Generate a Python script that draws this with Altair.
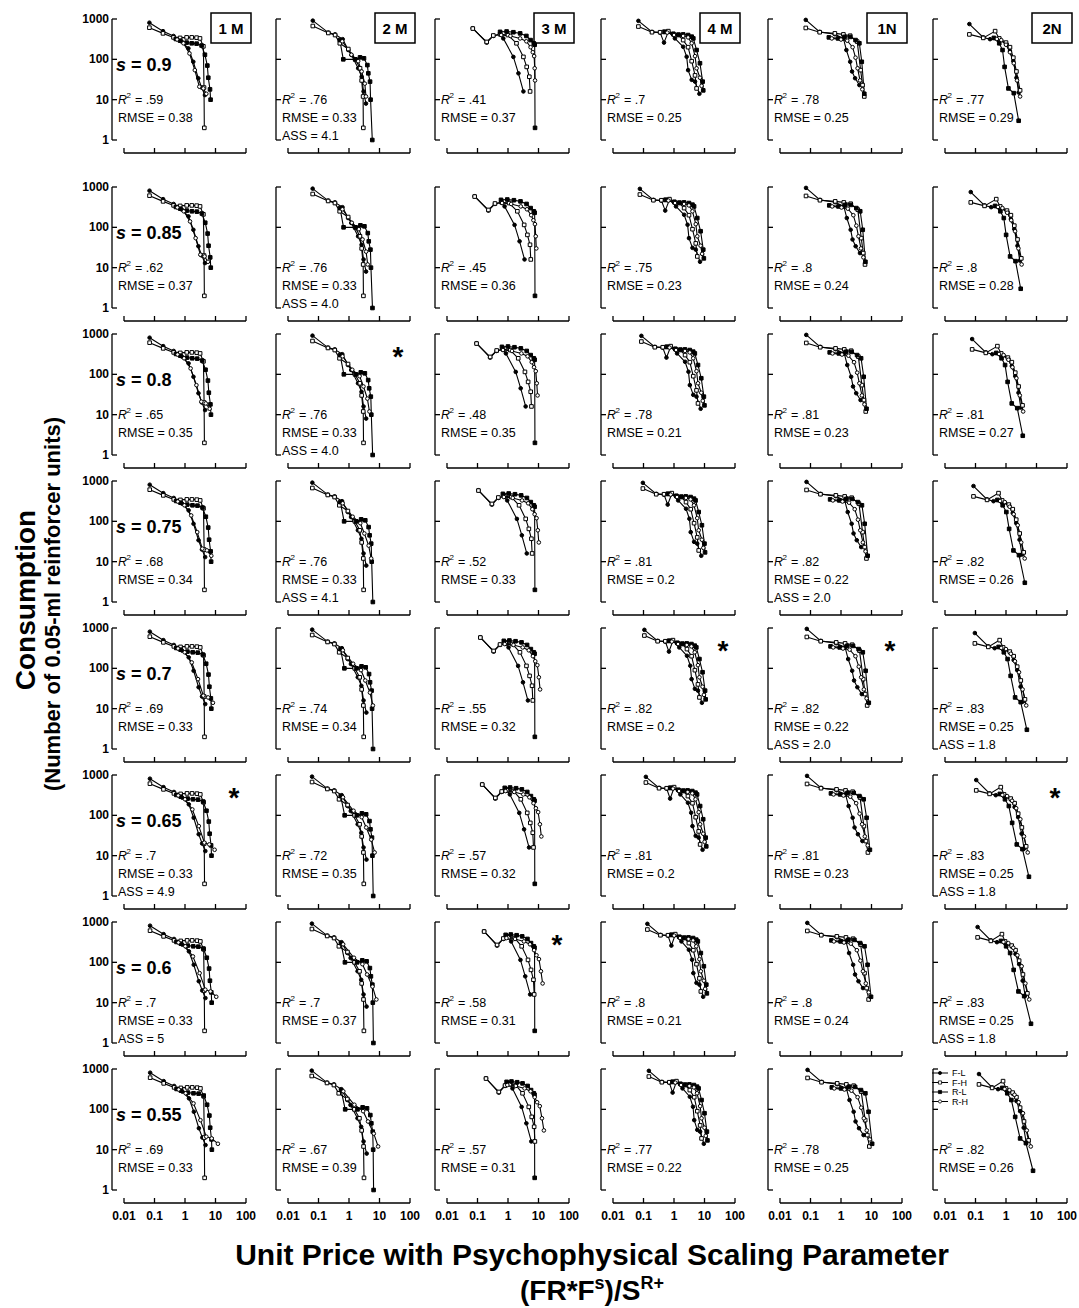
import altair as alt
import pandas as pd

FONT = "Liberation Sans"

# ---- layout (pixels) ----
PW = 122          # plot width (0.01 .. 100)
PH = 121          # plot height (1 .. 1000)
COL_W = [164, 159, 166, 167, 165, 122]
ROW_H = [168, 147, 147, 147, 147, 147, 147, 121]

# ---- panels ----
S_VALUES = [0.9, 0.85, 0.8, 0.75, 0.7, 0.65, 0.6, 0.55]
S_LABELS = ["0.9", "0.85", "0.8", "0.75", "0.7", "0.65", "0.6", "0.55"]
SUBJECTS = ["1 M", "2 M", "3 M", "4 M", "1N", "2N"]
SERIES = ["F-L", "F-H", "R-L", "R-H"]
SERIES_SHAPE = ["circle", "square", "square", "circle"]
SERIES_FILL = ["black", "white", "black", "white"]

# ---- consumption and unit price (at s = 0.9 and at s = 0.55) ----
M1_FL_Y = [810, 500, 380, 275, 187, 87, 34, 20, 13]
M1_FL_X090 = [0.068, 0.19, 0.42, 0.78, 1.29, 1.87, 2.73, 3.5, 4.5]
M1_FL_X055 = [0.072, 0.2, 0.44, 0.82, 1.35, 1.95, 2.85, 3.7, 4.7]
M1_FH_Y = [610, 440, 350, 340, 350, 350, 345, 330, 210, 20, 2]
M1_FH_X090 = [0.068, 0.19, 0.42, 0.69, 1.13, 1.66, 2.4, 3.1, 4.0, 4.2, 4.3]
M1_FH_X055 = [0.072, 0.2, 0.44, 0.73, 1.18, 1.72, 2.5, 3.2, 4.1, 4.3, 4.4]
M1_RL_Y = [320, 290, 260, 250, 245, 220, 130, 70, 35, 18, 10]
M1_RL_X090 = [0.5, 0.69, 1.13, 1.66, 2.4, 3.5, 4.5, 5.4, 5.8, 6.6, 6.9]
M1_RL_X055 = [0.53, 0.74, 1.25, 1.9, 2.8, 4.1, 5.3, 6.3, 6.7, 7.4, 7.6]
M1_RH_Y = [310, 250, 140, 54, 21, 19, 14]
M1_RH_X090 = [0.55, 0.89, 1.4, 2.1, 2.95, 4.0, 5.0]
M1_RH_X055 = [0.62, 1.05, 1.9, 3.2, 5.0, 7.5, 12.0]

M2_FL_Y = [910, 460, 415, 316, 170, 128, 60, 37, 16, 8]
M2_FL_X090 = [0.065, 0.21, 0.35, 0.62, 0.95, 1.2, 2.0, 2.6, 3.0, 3.6]
M2_FL_X055 = [0.06, 0.19, 0.32, 0.56, 0.88, 1.12, 1.9, 2.5, 3.0, 3.8]
M2_FH_Y = [670, 450, 400, 250, 180, 100, 60, 30, 12, 2]
M2_FH_X090 = [0.065, 0.21, 0.35, 0.5, 0.95, 1.6, 2.3, 2.6, 2.9, 2.95]
M2_FH_X055 = [0.06, 0.19, 0.32, 0.46, 0.88, 1.5, 2.2, 2.6, 3.0, 3.1]
M2_RL_Y = [300, 100, 100, 112, 106, 72, 45, 28, 10, 1]
M2_RL_X090 = [0.5, 0.65, 1.6, 2.3, 3.1, 4.0, 4.3, 4.9, 5.1, 5.8]
M2_RL_X055 = [0.55, 0.75, 1.9, 2.8, 3.9, 5.0, 5.4, 6.0, 6.2, 6.4]
M2_RH_Y = [280, 130, 90, 50, 25, 12]
M2_RH_X090 = [0.6, 1.2, 2.0, 2.6, 3.3, 3.6]
M2_RH_X055 = [0.65, 1.5, 2.9, 4.2, 6.5, 9.0]

M3_FL_Y = [590, 260, 380, 415, 330, 115, 45, 16]
M3_FL_X090 = [0.07, 0.2, 0.33, 0.55, 0.7, 1.5, 2.2, 3.2]
M3_FL_X055 = [0.19, 0.5, 0.8, 1.15, 1.4, 2.8, 4.0, 5.8]
M3_FH_Y = [580, 270, 390, 420, 400, 250, 115, 65, 37, 16]
M3_FH_X090 = [0.07, 0.2, 0.33, 0.55, 1.0, 1.9, 3.2, 4.1, 5.0, 5.3]
M3_FH_X055 = [0.19, 0.5, 0.8, 1.15, 1.8, 3.0, 4.8, 6.0, 7.2, 7.6]
M3_RL_Y = [480, 490, 470, 440, 380, 300, 250, 230, 2]
M3_RL_X090 = [0.55, 0.9, 1.5, 2.5, 4.0, 5.5, 7.0, 7.5, 7.7]
M3_RL_X055 = [0.9, 1.3, 2.0, 3.0, 4.4, 5.7, 7.0, 7.4, 7.5]
M3_RH_Y = [400, 380, 330, 280, 200, 150, 120, 60, 30]
M3_RH_X090 = [0.6, 1.2, 2.5, 4.0, 5.5, 6.5, 7.2, 7.5, 7.7]
M3_RH_X055 = [0.95, 1.8, 3.5, 5.5, 7.5, 9.0, 11.0, 13.0, 15.0]

M4_FL_Y = [900, 480, 460, 260, 480, 330, 205, 116, 54, 31, 28, 14]
M4_FL_X090 = [0.068, 0.19, 0.35, 0.47, 0.65, 1.07, 2.0, 2.6, 2.9, 3.8, 4.9, 6.8]
M4_FL_X055 = [0.15, 0.4, 0.7, 0.9, 1.2, 1.9, 3.3, 4.2, 4.6, 5.8, 7.2, 9.5]
M4_FH_Y = [650, 470, 470, 480, 500, 420, 400, 300, 200, 90, 40, 19]
M4_FH_X090 = [0.068, 0.19, 0.35, 0.47, 0.65, 0.95, 1.4, 2.0, 2.9, 3.8, 4.9, 5.5]
M4_FH_X055 = [0.15, 0.4, 0.7, 0.9, 1.2, 1.7, 2.4, 3.3, 4.6, 5.8, 7.2, 8.0]
M4_RL_Y = [480, 430, 410, 415, 400, 365, 330, 170, 80, 28, 17]
M4_RL_X090 = [0.5, 0.95, 1.4, 2.0, 2.9, 3.8, 4.3, 5.5, 7.1, 8.7, 9.1]
M4_RL_X055 = [0.9, 1.6, 2.3, 3.2, 4.5, 5.7, 6.4, 8.0, 10.0, 12.0, 12.5]
M4_RH_Y = [460, 400, 380, 350, 250, 120, 60, 35, 22]
M4_RH_X090 = [0.6, 1.0, 2.0, 2.9, 3.8, 4.9, 5.5, 7.1, 8.0]
M4_RH_X055 = [1.1, 1.7, 3.2, 4.5, 5.7, 7.2, 8.0, 10.0, 11.0]

N1_FL_Y = [950, 480, 420, 330, 170, 87, 50, 34, 23]
N1_FL_X090 = [0.07, 0.2, 0.63, 1.2, 1.5, 2.0, 2.3, 2.9, 4.0]
N1_FL_X055 = [0.08, 0.23, 0.75, 1.5, 1.9, 2.6, 3.0, 3.9, 5.5]
N1_FH_Y = [600, 470, 440, 415, 385, 275, 54, 23, 12]
N1_FH_X090 = [0.07, 0.2, 0.63, 1.2, 2.0, 3.4, 4.4, 5.1, 5.8]
N1_FH_X055 = [0.08, 0.23, 0.75, 1.5, 2.6, 4.6, 6.2, 7.3, 8.5]
N1_RL_Y = [350, 330, 360, 360, 300, 250, 87, 14]
N1_RL_X090 = [0.4, 0.8, 1.3, 2.0, 3.0, 4.0, 4.8, 5.8]
N1_RL_X055 = [0.5, 1.0, 1.8, 2.9, 4.5, 6.3, 8.0, 10.5]
N1_RH_Y = [330, 310, 290, 200, 110, 60, 30, 18]
N1_RH_X090 = [0.5, 1.0, 1.6, 2.4, 3.0, 3.5, 4.2, 5.0]
N1_RH_X055 = [0.6, 1.3, 2.2, 3.5, 4.6, 5.6, 7.0, 8.8]

N2_FL_Y = [750, 350, 316, 300, 240, 160, 90, 35, 15]
N2_FL_X090 = [0.063, 0.18, 0.30, 0.6, 1.05, 1.35, 1.74, 2.2, 2.6]
N2_FL_X055 = [0.13, 0.35, 0.55, 1.0, 1.7, 2.2, 2.9, 3.8, 4.6]
N2_FH_Y = [415, 340, 500, 330, 260, 200, 110, 50, 17]
N2_FH_X090 = [0.063, 0.18, 0.44, 0.6, 1.0, 1.35, 1.74, 2.2, 2.9]
N2_FH_X055 = [0.13, 0.35, 0.8, 1.0, 1.65, 2.2, 2.9, 3.9, 5.5]
N2_RL_Y = [340, 250, 170, 65, 19, 14.5, 3]
N2_RL_X090 = [0.4, 0.6, 0.77, 0.9, 1.2, 1.8, 2.6]
N2_RL_X055 = [0.75, 1.1, 1.5, 2.0, 2.9, 4.5, 7.7]
N2_RH_Y = [320, 300, 230, 150, 80, 30, 12]
N2_RH_X090 = [0.5, 0.7, 1.0, 1.35, 1.8, 2.3, 2.9]
N2_RH_X055 = [0.9, 1.3, 1.9, 2.6, 3.6, 4.8, 6.5]

# ---- fit statistics per panel (rows: s, columns: subject) ----
R2_ROWS = [
    [".59", ".76", ".41", ".7", ".78", ".77"],
    [".62", ".76", ".45", ".75", ".8", ".8"],
    [".65", ".76", ".48", ".78", ".81", ".81"],
    [".68", ".76", ".52", ".81", ".82", ".82"],
    [".69", ".74", ".55", ".82", ".82", ".83"],
    [".7", ".72", ".57", ".81", ".81", ".83"],
    [".7", ".7", ".58", ".8", ".8", ".83"],
    [".69", ".67", ".57", ".77", ".78", ".82"],
]
RMSE_ROWS = [
    ["0.38", "0.33", "0.37", "0.25", "0.25", "0.29"],
    ["0.37", "0.33", "0.36", "0.23", "0.24", "0.28"],
    ["0.35", "0.33", "0.35", "0.21", "0.23", "0.27"],
    ["0.34", "0.33", "0.33", "0.2", "0.22", "0.26"],
    ["0.33", "0.34", "0.32", "0.2", "0.22", "0.25"],
    ["0.33", "0.35", "0.32", "0.2", "0.23", "0.25"],
    ["0.33", "0.37", "0.31", "0.21", "0.24", "0.25"],
    ["0.33", "0.39", "0.31", "0.22", "0.25", "0.26"],
]
ASS_ROWS = [
    ["", "4.1", "", "", "", ""],
    ["", "4.0", "", "", "", ""],
    ["", "4.0", "", "", "", ""],
    ["", "4.1", "", "", "2.0", ""],
    ["", "", "", "", "2.0", "1.8"],
    ["4.9", "", "", "", "", "1.8"],
    ["5", "", "", "", "", "1.8"],
    ["", "", "", "", "", ""],
]
STARRED = [(2, 1), (4, 3), (4, 4), (5, 0), (5, 5), (6, 2)]

Y_TICKS = [1, 10, 100, 1000]
Y_TICK_LABELS = ["1", "10", "100", "1000"]
X_TICKS = [0.01, 0.1, 1, 10, 100]
X_TICK_LABELS = ["0.01", "0.1", "1", "10", "100"]

CURVES = [
    (0, 0, M1_FL_Y, M1_FL_X090, M1_FL_X055), (0, 1, M1_FH_Y, M1_FH_X090, M1_FH_X055),
    (0, 2, M1_RL_Y, M1_RL_X090, M1_RL_X055), (0, 3, M1_RH_Y, M1_RH_X090, M1_RH_X055),
    (1, 0, M2_FL_Y, M2_FL_X090, M2_FL_X055), (1, 1, M2_FH_Y, M2_FH_X090, M2_FH_X055),
    (1, 2, M2_RL_Y, M2_RL_X090, M2_RL_X055), (1, 3, M2_RH_Y, M2_RH_X090, M2_RH_X055),
    (2, 0, M3_FL_Y, M3_FL_X090, M3_FL_X055), (2, 1, M3_FH_Y, M3_FH_X090, M3_FH_X055),
    (2, 2, M3_RL_Y, M3_RL_X090, M3_RL_X055), (2, 3, M3_RH_Y, M3_RH_X090, M3_RH_X055),
    (3, 0, M4_FL_Y, M4_FL_X090, M4_FL_X055), (3, 1, M4_FH_Y, M4_FH_X090, M4_FH_X055),
    (3, 2, M4_RL_Y, M4_RL_X090, M4_RL_X055), (3, 3, M4_RH_Y, M4_RH_X090, M4_RH_X055),
    (4, 0, N1_FL_Y, N1_FL_X090, N1_FL_X055), (4, 1, N1_FH_Y, N1_FH_X090, N1_FH_X055),
    (4, 2, N1_RL_Y, N1_RL_X090, N1_RL_X055), (4, 3, N1_RH_Y, N1_RH_X090, N1_RH_X055),
    (5, 0, N2_FL_Y, N2_FL_X090, N2_FL_X055), (5, 1, N2_FH_Y, N2_FH_X090, N2_FH_X055),
    (5, 2, N2_RL_Y, N2_RL_X090, N2_RL_X055), (5, 3, N2_RH_Y, N2_RH_X090, N2_RH_X055),
]

# Unit price FR*F^s/S is log-linear in s, so each point's price at any s
# follows from its prices at the two ends of the s range.
S_HI, S_LO = S_VALUES[0], S_VALUES[-1]
records = []
for c, k, ys, x_hi, x_lo in CURVES:
    for r, s in enumerate(S_VALUES):
        t = (S_HI - s) / (S_HI - S_LO)
        for i, (y, a, b) in enumerate(zip(ys, x_hi, x_lo)):
            records.append({"row": r, "col": c, "series": SERIES[k], "i": i,
                            "x": round(a * (b / a) ** t, 4), "y": y})
DATA = pd.DataFrame(records)
ONE = pd.DataFrame({"k": [0]})
YT = pd.DataFrame({"v": Y_TICKS, "lab": Y_TICK_LABELS})
XT = pd.DataFrame({"v": X_TICKS, "lab": X_TICK_LABELS})

XS = alt.Scale(type="log", domain=[0.01, 100], range=[0, PW])
YS = alt.Scale(type="log", domain=[1, 1000], range=[PH, 0])
SHAPE_SCALE = alt.Scale(domain=SERIES, range=SERIES_SHAPE)
FILL_SCALE = alt.Scale(domain=SERIES, range=SERIES_FILL)
AXIS_W = 1.3


def txt(s, x, y, size=12.5, weight="normal", style="normal", align="left",
        baseline="alphabetic", angle=None):
    props = dict(text=s, font=FONT, fontSize=size, fontWeight=weight,
                 fontStyle=style, align=align, baseline=baseline, color="black")
    if angle is not None:
        props["angle"] = angle
    return alt.Chart(ONE).mark_text(**props).encode(x=alt.value(x), y=alt.value(y))


def hrule(x0, x1, y, w=AXIS_W, opacity=1):
    return alt.Chart(ONE).mark_rule(color="black", strokeWidth=w, opacity=opacity).encode(
        x=alt.value(x0), x2=alt.value(x1), y=alt.value(y))


def panel(r, c):
    layers = []
    if r == 0:
        # subject header box
        layers.append(alt.Chart(ONE).mark_rect(fill="white", stroke="black", strokeWidth=1.5).encode(
            x=alt.value(87), x2=alt.value(127), y=alt.value(-6), y2=alt.value(24)))
        layers.append(txt(SUBJECTS[c], 107, 10, size=15, weight="bold", align="center", baseline="middle"))

    sel = alt.Chart(DATA).transform_filter(f"datum.row == {r} && datum.col == {c}")
    xe = alt.X("x:Q", scale=XS, axis=None)
    ye = alt.Y("y:Q", scale=YS, axis=None)
    layers.append(sel.mark_line(color="black", strokeWidth=1.1).encode(
        x=xe, y=ye, detail="series:N", order="i:Q"))
    layers.append(sel.mark_point(filled=True, size=13, stroke="black", strokeWidth=1, opacity=1).encode(
        x=xe, y=ye,
        shape=alt.Shape("series:N", scale=SHAPE_SCALE, legend=None),
        fill=alt.Fill("series:N", scale=FILL_SCALE, legend=None)))

    # offset axes: bracket-style y axis and x axis with inward ticks
    layers.append(alt.Chart(ONE).mark_rule(color="black", strokeWidth=AXIS_W).encode(
        x=alt.value(-12), y=alt.value(0), y2=alt.value(PH)))
    layers.append(alt.Chart(YT).mark_rule(color="black", strokeWidth=AXIS_W).encode(
        y=alt.Y("v:Q", scale=YS, axis=None), x=alt.value(-12), x2=alt.value(-7)))
    layers.append(hrule(0, PW, PH + 13))
    layers.append(alt.Chart(XT).mark_rule(color="black", strokeWidth=AXIS_W).encode(
        x=alt.X("v:Q", scale=XS, axis=None), y=alt.value(PH + 13), y2=alt.value(PH + 8)))

    if c == 0:
        layers.append(alt.Chart(YT).mark_text(font=FONT, fontSize=12, fontWeight="bold",
                                              align="right", baseline="middle").encode(
            y=alt.Y("v:Q", scale=YS, axis=None), x=alt.value(-15), text="lab:N"))
        layers.append(txt("s", -8, 52, size=18, weight="bold", style="italic"))
        layers.append(txt("= " + S_LABELS[r], 7, 52, size=18, weight="bold"))
    if r == len(S_VALUES) - 1:
        layers.append(alt.Chart(XT).mark_text(font=FONT, fontSize=12, fontWeight="bold",
                                              align="center", baseline="middle").encode(
            x=alt.X("v:Q", scale=XS, axis=None), y=alt.value(PH + 26), text="lab:N"))

    # fit statistics
    layers.append(txt("R", -6, 85, style="italic"))
    layers.append(txt("2", 2.5, 79, size=8))
    layers.append(txt("= " + R2_ROWS[r][c], 11, 85))
    layers.append(txt("RMSE = " + RMSE_ROWS[r][c], -6, 103))
    if ASS_ROWS[r][c]:
        layers.append(txt("ASS = " + ASS_ROWS[r][c], -6, 121))
    if (r, c) in STARRED:
        layers.append(txt("*", 110, 32, size=28, weight="bold", align="center"))

    if r == len(S_VALUES) - 1 and c == len(SUBJECTS) - 1:
        for k, ser in enumerate(SERIES):
            ly = 4 + 9.5 * k
            layers.append(hrule(-13, 3, ly, w=1))
            layers.append(alt.Chart(ONE).mark_point(shape=SERIES_SHAPE[k], filled=True,
                                                    fill=SERIES_FILL[k], stroke="black",
                                                    strokeWidth=0.8, size=10, opacity=1).encode(
                x=alt.value(-5), y=alt.value(ly)))
            layers.append(txt(ser, 7, ly, size=9, baseline="middle"))

    if r == 0 and c == 0:
        # page anchor and the shared axis titles
        layers.append(hrule(-124, -123, -19, w=0.5, opacity=0))
        layers.append(txt("Consumption", -97, 581, size=28, weight="bold",
                          align="center", baseline="middle", angle=270))
        layers.append(txt("(Number of 0.05-ml reinforcer units)", -71, 585, size=22,
                          weight="bold", align="center", baseline="middle", angle=270))
        layers.append(txt("Unit Price with Psychophysical Scaling Parameter", 468, 1246,
                          size=30, weight="bold", align="center"))
        x0 = 468 - 72
        layers.append(txt("(FR*F", x0, 1281, size=28, weight="bold"))
        layers.append(txt("s", x0 + 74.6, 1270, size=18, weight="bold"))
        layers.append(txt(")/S", x0 + 84.6, 1281, size=28, weight="bold"))
        layers.append(txt("R+", x0 + 120.4, 1270, size=18, weight="bold"))

    return alt.layer(*layers).properties(width=COL_W[c], height=ROW_H[r])


panels = [panel(r, c) for r in range(len(S_VALUES)) for c in range(len(SUBJECTS))]

chart = alt.concat(
    *panels, columns=len(SUBJECTS), spacing=0, bounds="flush", align="each",
    padding=0, background="white",
).configure_view(strokeWidth=0)

chart.save("out.html", embed_options={"renderer": "svg", "actions": False})
